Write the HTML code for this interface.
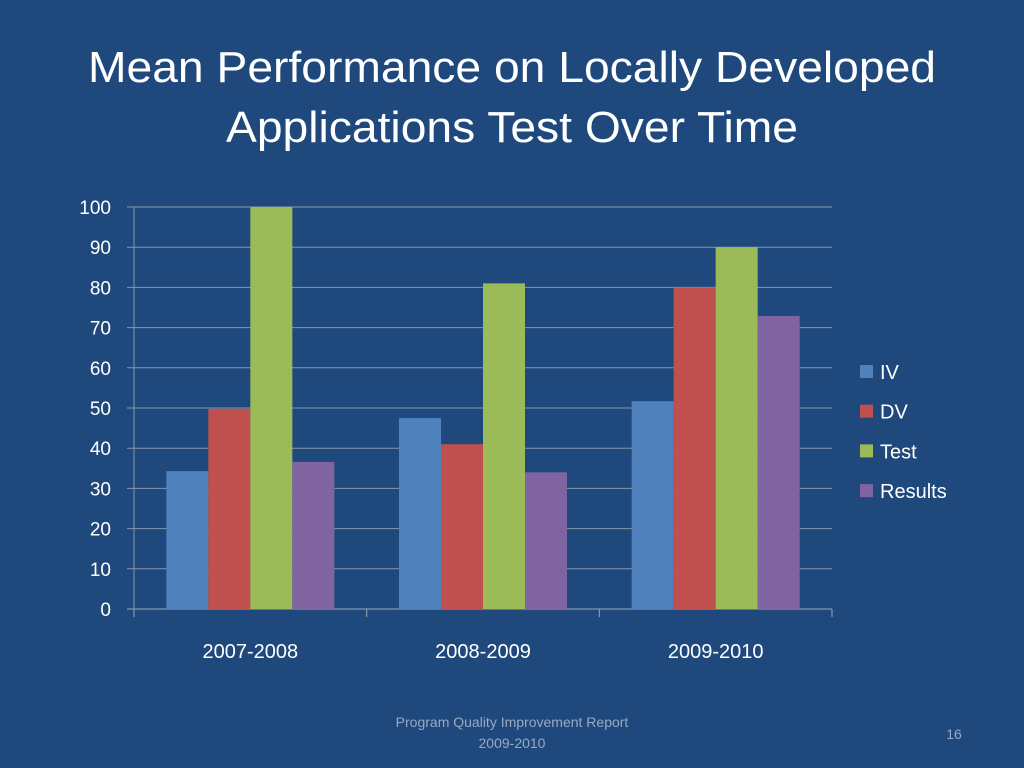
<!DOCTYPE html>
<html><head><meta charset="utf-8"><style>
html,body{margin:0;padding:0;background:#1F497D;}
svg{display:block;font-family:"Liberation Sans",sans-serif;}
</style></head><body>
<svg id="chart" width="1024" height="768" viewBox="0 0 1024 768">
<rect x="0" y="0" width="1024" height="768" fill="#1F497D"/>
<text x="512" y="82" text-anchor="middle" fill="#fff" font-size="44" textLength="848" lengthAdjust="spacingAndGlyphs">Mean Performance on Locally Developed</text>
<text x="512" y="142" text-anchor="middle" fill="#fff" font-size="44" textLength="572" lengthAdjust="spacingAndGlyphs">Applications Test Over Time</text>
<g id="plot"></g>
<g id="legend"></g>
<text x="512" y="727" text-anchor="middle" fill="#9aa8c0" font-size="14">Program Quality Improvement Report</text>
<text x="512" y="748" text-anchor="middle" fill="#9aa8c0" font-size="14">2009-2010</text>
<text x="954" y="739" text-anchor="middle" fill="#9aa8c0" font-size="14">16</text>
</svg>
<script>
const categories = ["2007-2008","2008-2009","2009-2010"];
const seriesNames = ["IV","DV","Test","Results"];
const ivValues = [34.3, 47.5, 51.7];
const dvValues = [49.8, 41, 80];
const testValues = [100, 81, 90];
const resultsValues = [36.6, 34, 72.9];
const yTicks = [0,10,20,30,40,50,60,70,80,90,100];
const colors = ["#4F81BD","#C0504D","#9BBB59","#8064A2"];
const series = [ivValues, dvValues, testValues, resultsValues];

const NS = "http://www.w3.org/2000/svg";
const x0 = 134, x1 = 832, yBase = 609, yTop = 207;
const yScale = v => yBase - (v/100)*(yBase-yTop);
const groupW = (x1-x0)/categories.length;
const barW = 42, pad = (groupW - barW*series.length)/2;
const xBar = (ci, si) => x0 + ci*groupW + pad + si*barW;
const plot = document.getElementById('plot');
function mk(tag, attrs, parent){const e=document.createElementNS(NS,tag);for(const k in attrs)e.setAttribute(k,attrs[k]);parent.appendChild(e);return e;}

yTicks.forEach(t=>{
  const y=yScale(t);
  const g=mk('line',{x1:127,x2:x1,y1:y,y2:y,stroke:t===0?'#9aa6b8':'#8797ad','stroke-width':1},plot);
  
  
  const tx=mk('text',{x:111,y:y+7,'text-anchor':'end',fill:'#fff','font-size':19},plot);
  tx.textContent=t;
  
  
});
const ax=mk('line',{x1:x0,x2:x0,y1:yTop,y2:yBase,stroke:'#8797ad','stroke-width':1},plot);


for(let i=0;i<=categories.length;i++){
  const x=x0+i*groupW;
  const tk=mk('line',{x1:x,x2:x,y1:yBase,y2:yBase+8,stroke:'#9aa6b8','stroke-width':1},plot);
  
  
}
categories.forEach((c,ci)=>{
  series.forEach((vals,si)=>{
    const y=yScale(vals[ci]);
    const r=mk('rect',{x:xBar(ci,si),y:y,width:barW,height:yBase-y,fill:colors[si]},plot);
    
    
  });
  const t=mk('text',{x:x0+ci*groupW+groupW/2,y:658,'text-anchor':'middle',fill:'#fff','font-size':20},plot);
  t.textContent=c;
  
  
});
const legend=document.getElementById('legend');
seriesNames.forEach((n,i)=>{
  const y=372+i*39.7;
  const s=mk('rect',{x:860,y:y-7,width:13,height:13,fill:colors[i]},legend);
  
  
  const t=mk('text',{x:880,y:y+7,fill:'#fff','font-size':20},legend);
  t.textContent=n;
  
  
});
</script>
</body></html>
